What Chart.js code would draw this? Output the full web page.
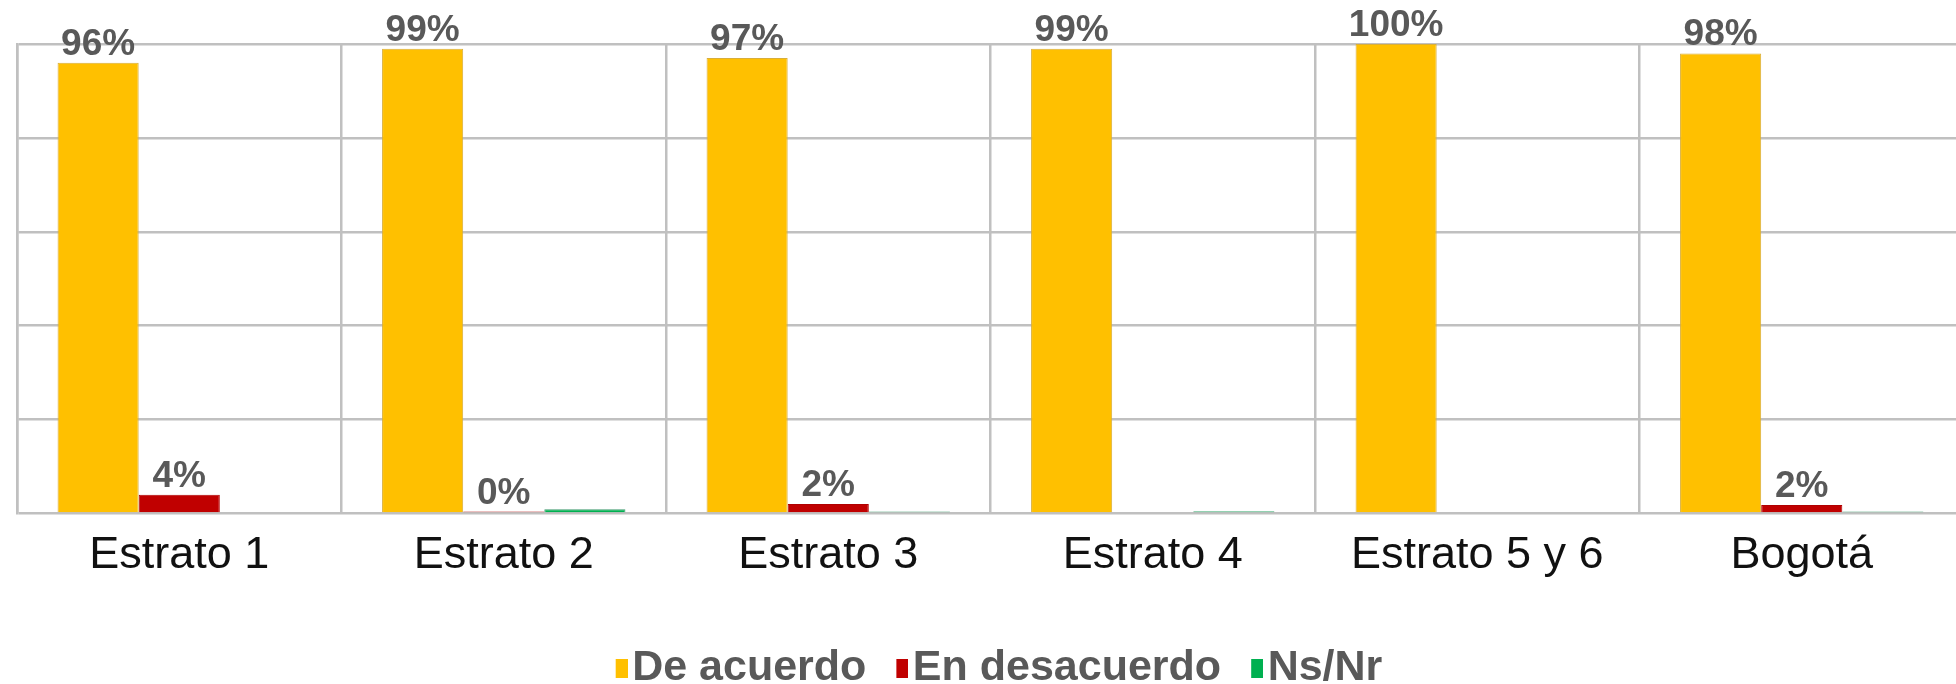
<!DOCTYPE html>
<html>
<head>
<meta charset="utf-8">
<script src="https://cdn.jsdelivr.net/npm/chart.js@4/dist/chart.umd.min.js"></script>
<style>
html,body{margin:0;padding:0;overflow:hidden;background:#ffffff;}
#wrap{width:1964px;height:700px;position:relative;}
</style>
</head>
<body>
<div id="wrap"><canvas id="c"></canvas></div>
<script>
const categories = ['Estrato 1', 'Estrato 2', 'Estrato 3', 'Estrato 4', 'Estrato 5 y 6', 'Bogotá'];
const deAcuerdo = [96, 99, 97, 99, 100, 98];
const enDesacuerdo = [4, 0.4, 2, null, null, 1.8];
const nsNr = [0, 0.9, 0.4, 0.5, null, 0.4];
const seriesNames = ['De acuerdo', 'En desacuerdo', 'Ns/Nr'];
const seriesColors = ['#FFC000', '#C00000', '#00B050'];
const yMin = 0, yMax = 100, yStep = 20;
const labelledSeries = [0, 1];

const barLabels = {
  id: 'barLabels',
  afterDatasetsDraw(chart, args, opts) {
    const ctx = chart.ctx;
    ctx.save();
    ctx.font = 'bold 37px "Liberation Sans", Arial, sans-serif';
    ctx.fillStyle = '#595959';
    ctx.textAlign = 'center';
    ctx.textBaseline = 'alphabetic';
    opts.series.forEach(i => {
      const meta = chart.getDatasetMeta(i);
      const data = chart.data.datasets[i].data;
      meta.data.forEach((bar, j) => {
        const v = data[j];
        if (v === null || v === undefined) return;
        ctx.fillText(Math.round(v) + '%', bar.x, bar.y - 8);
      });
    });
    ctx.restore();
  }
};

// legend swatch: small box drawn close to the label text
function legendSwatch(color) {
  const c = document.createElement('canvas');
  c.width = 46; c.height = 19;
  const g = c.getContext('2d');
  g.fillStyle = color;
  g.fillRect(34, 0, 12, 19);
  return c;
}

const gridColor = '#C0C0C0';

new Chart(document.getElementById('c'), {
  type: 'bar',
  data: {
    labels: categories,
    datasets: [
      { label: seriesNames[0], data: deAcuerdo, backgroundColor: seriesColors[0], borderColor: '#D8AE3A', borderWidth: 1 },
      { label: seriesNames[1], data: enDesacuerdo, backgroundColor: seriesColors[1], borderColor: '#B00000', borderWidth: 1 },
      { label: seriesNames[2], data: nsNr, backgroundColor: seriesColors[2], borderColor: '#3E9A6E', borderWidth: 1 }
    ]
  },
  options: {
    responsive: true,
    maintainAspectRatio: false,
    animation: false,
    categoryPercentage: 0.75,
    barPercentage: 1.0,
    layout: { padding: { left: 17, top: 44, right: 0, bottom: 0 } },
    scales: {
      x: {
        grid: { color: gridColor, lineWidth: 2.5, offset: true, drawTicks: false },
        border: { display: false },
        ticks: {
          color: '#111111',
          padding: 0,
          font: { family: '"Liberation Sans", Arial, sans-serif', size: 45, lineHeight: 1.867 }
        }
      },
      y: {
        min: yMin, max: yMax,
        ticks: { display: false, stepSize: yStep },
        grid: { color: gridColor, lineWidth: 2.5, drawTicks: false },
        border: { display: true, color: gridColor, width: 2.5 }
      }
    },
    plugins: {
      tooltip: { enabled: false },
      barLabels: { series: labelledSeries },
      legend: {
        position: 'bottom',
        title: { display: true, text: '', font: { size: 1, lineHeight: 1.5 }, padding: { top: 0, bottom: 35 } },
        labels: {
          color: '#595959',
          usePointStyle: true,
          boxWidth: 12,
          boxHeight: 19,
          padding: 13,
          font: { family: '"Liberation Sans", Arial, sans-serif', size: 43, weight: 'bold' },
          generateLabels(chart) {
            const items = Chart.defaults.plugins.legend.labels.generateLabels(chart);
            items.forEach(it => { it.pointStyle = legendSwatch(seriesColors[it.datasetIndex]); });
            return items;
          }
        }
      }
    }
  },
  plugins: [barLabels]
});
</script>
</body>
</html>
